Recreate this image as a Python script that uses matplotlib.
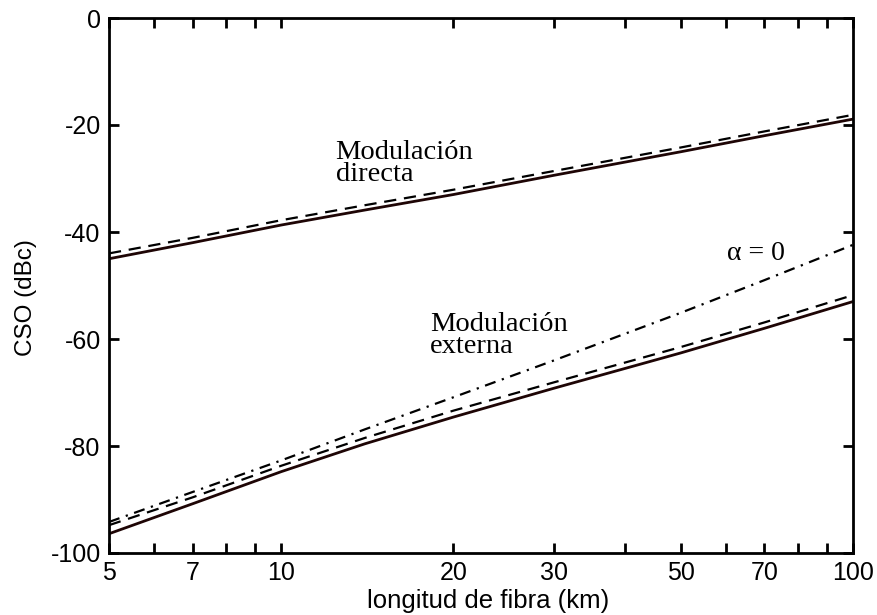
import matplotlib
matplotlib.use("Agg")
import matplotlib.pyplot as plt
from matplotlib.ticker import FixedLocator, NullFormatter, FixedFormatter

# Data
L = [5, 7, 10, 14, 20, 30, 50, 70, 100]
directa_solid = [-45.0, -42.0, -38.7, -35.9, -33.0, -29.4, -25.0, -22.0, -18.9]
directa_dash = [-44.0, -41.1, -37.8, -35.0, -32.1, -28.6, -24.2, -21.2, -18.1]
externa_solid = [-96.4, -90.8, -84.8, -79.6, -74.6, -69.2, -62.6, -58.0, -53.0]
externa_dash = [-94.8, -89.6, -83.7, -78.5, -73.4, -68.1, -61.5, -56.9, -51.8]
alpha0 = [-94.2, -88.6, -82.7, -76.9, -70.9, -64.0, -55.1, -49.0, -42.4]

xticks_major = [5, 7, 10, 20, 30, 50, 70, 100]
xticks_all = [5, 6, 7, 8, 9, 10, 20, 30, 40, 50, 60, 70, 80, 90, 100]
yticks = [0, -20, -40, -60, -80, -100]

fig = plt.figure(figsize=(8.78, 6.15), dpi=100)
ax = fig.add_axes([109/878, 1 - 553/615, (853-109)/878, (553-18)/615])

solid_c = "#1e0505"
ax.plot(L, directa_solid, color=solid_c, lw=2.0)
ax.plot(L, directa_dash, color="black", lw=1.6, ls=(0, (5.5, 3.5)))
ax.plot(L, externa_solid, color=solid_c, lw=2.0)
ax.plot(L, externa_dash, color="black", lw=1.6, ls=(0, (5.5, 3.5)))
ax.plot(L, alpha0, color="black", lw=1.6, ls=(0, (5, 3, 1, 3)))

ax.set_xscale("log")
ax.set_xlim(5, 100)
ax.set_ylim(-100, 0)
ax.xaxis.set_major_locator(FixedLocator(xticks_all))
ax.xaxis.set_major_formatter(FixedFormatter([str(v) if v in xticks_major else "" for v in xticks_all]))
ax.xaxis.set_minor_locator(FixedLocator([]))
ax.xaxis.set_minor_formatter(NullFormatter())
ax.set_yticks(yticks)
ax.set_yticklabels([str(v) for v in yticks])

for s in ax.spines.values():
    s.set_linewidth(2.0)
ax.tick_params(direction="in", length=7, width=2.0, top=True, right=True,
               labelsize=18, pad=6)
for lab in ax.get_xticklabels() + ax.get_yticklabels():
    lab.set_fontfamily("Liberation Sans")

ax.set_xlabel("longitud de fibra (km)", fontsize=18.5, family="Liberation Sans")
ax.set_ylabel("CSO (dBc)", fontsize=17.5, family="Liberation Sans")
ax.xaxis.set_label_coords(0.509, -0.068)
ax.yaxis.set_label_coords(-0.097, 0.477)

ax.text(12.45, -22.8, "Modulación\ndirecta", fontsize=20.5, family="Liberation Serif",
        va="top", ha="left", linespacing=0.82)
ax.text(18.2, -55.0, "Modulación\nexterna", fontsize=20.5, family="Liberation Serif",
        va="top", ha="left", linespacing=0.82)
ax.text(60.2, -44.0, "α = 0", fontsize=20, family="Liberation Serif", va="center", ha="left")

fig.savefig("out.png", dpi=100)
